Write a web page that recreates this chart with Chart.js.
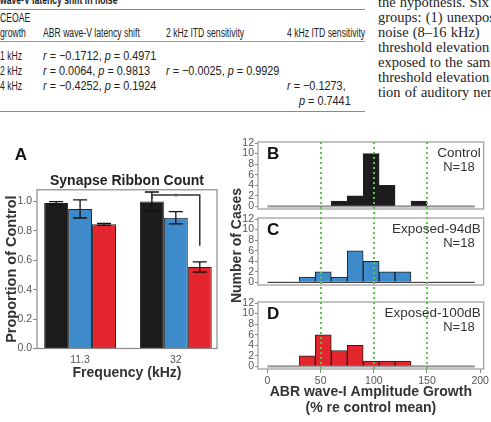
<!DOCTYPE html>
<html>
<head>
<meta charset="utf-8">
<script src="https://cdn.jsdelivr.net/npm/chart.js"></script>
<style>
  html, body { margin: 0; padding: 0; background: #fff; }
  body { width: 491px; height: 422px; position: relative; overflow: hidden; }
  .tbl div {
    position: absolute;
    white-space: nowrap;
    font-family: "Liberation Sans", Arial, sans-serif;
    font-size: 12.5px;
    line-height: 14px;
    color: #222;
    transform-origin: 0 50%;
    transform: scaleX(.69);
  }
  .tbl div.m { transform: scaleX(.87); }
  .tbl div.h { font-weight: bold; }
  .tbl .rule { height: 0; left: 0; width: 365px; transform: none; }
  .prose {
    position: absolute;
    left: 378px;
    top: -5px;
    width: 113px;
    overflow: hidden;
    font-family: "Liberation Serif", "Times New Roman", serif;
    font-size: 14.5px;
    line-height: 15px;
    word-spacing: 0.5px;
    color: #1e1e1e;
    white-space: nowrap;
  }
  canvas { position: absolute; }
  #chartA { left: 0; top: 140px; }
  #chartH { left: 225px; top: 130px; }
</style>
</head>
<body>

<!-- tabla de correlaciones (parte de arriba de la página) -->
<div class="tbl">
  <div class="h" style="left:0;top:-7px">wave-V latency shift in noise</div>
  <div class="rule" style="top:9px;border-top:1.6px solid #8a8a8a"></div>
  <div style="left:0;top:11px">CEOAE</div>
  <div style="left:0;top:26px">growth</div>
  <div style="left:43px;top:26px">ABR wave-V latency shift</div>
  <div style="left:166px;top:26px">2 kHz ITD sensitivity</div>
  <div style="left:287px;top:26px">4 kHz ITD sensitivity</div>
  <div class="rule" style="top:41px;border-top:1px solid #9a9a9a"></div>
  <div style="left:0;top:49px">1 kHz</div>
  <div class="m" style="left:43px;top:49px"><i>r</i> = −0.1712, <i>p</i> = 0.4971</div>
  <div style="left:0;top:64px">2 kHz</div>
  <div class="m" style="left:43px;top:64px"><i>r</i> = 0.0064, <i>p</i> = 0.9813</div>
  <div class="m" style="left:166px;top:64px"><i>r</i> = −0.0025, <i>p</i> = 0.9929</div>
  <div style="left:0;top:79px">4 kHz</div>
  <div class="m" style="left:43px;top:79px"><i>r</i> = −0.4252, <i>p</i> = 0.1924</div>
  <div class="m" style="left:287px;top:79px"><i>r</i> = −0.1273,</div>
  <div class="m" style="left:299px;top:94px"><i>p</i> = 0.7441</div>
  <div class="rule" style="top:111px;border-top:1.8px solid #8a8a8a"></div>
</div>

<div class="prose">
  the hypothesis. Six<br>
  groups: (1) unexposed<br>
  noise (8–16 kHz)<br>
  threshold elevation<br>
  exposed to the same<br>
  threshold elevation<br>
  tion of auditory nerve
</div>

<canvas id="chartA" width="225" height="250"></canvas>
<canvas id="chartH" width="266" height="292"></canvas>

<script>
  // ---- Panel A: Synapse Ribbon Count ----
  const freqLabels   = ['11.3', '32'];
  const groupNames   = ['Control', 'Exposed-94dB', 'Exposed-100dB'];
  const groupColors  = ['#1c1c1c', '#3d8bca', '#e3262d'];
  const ribbonControl = [0.99, 1.00];
  const ribbonExp94   = [0.95, 0.89];
  const ribbonExp100  = [0.845, 0.555];
  const semControl    = [0.01, 0.065];
  const semExp94      = [0.062, 0.042];
  const semExp100     = [0.007, 0.035];
  const ribbonTicks   = [0, 0.2, 0.4, 0.6, 0.8, 1.0];
  // corchete de significancia en 32 kHz (Control vs Exposed-100dB)
  const sigTop = 1.045;
  const sigBottom = 0.70;

  // ---- Paneles B-D: histogramas ----
  const binStarts     = [0, 15, 30, 45, 60, 75, 90, 105, 120, 135, 150, 165, 180];
  const binWidth      = 15;
  const countsControl = [0, 0, 0, 0, 1, 2, 10, 4, 0, 1, 0, 0, 0];
  const countsExp94   = [0, 0, 1, 2, 1, 6, 4, 2, 2, 0, 0, 0, 0];
  const countsExp100  = [0, 0, 2, 6, 3, 4, 1, 1, 1, 0, 0, 0, 0];
  const panelLetters  = ['B', 'C', 'D'];
  const nLabels       = ['N=18', 'N=18', 'N=18'];
  const countTicks    = [0, 2, 4, 6, 8, 10, 12];
  const growthTicks   = [0, 50, 100, 150, 200];
  const refLines      = [50, 100, 150];

  Chart.defaults.font.family = '"Liberation Sans", Arial, sans-serif';
  Chart.defaults.animation = false;
  Chart.defaults.plugins.legend.display = false;
  Chart.defaults.plugins.tooltip.enabled = false;

  const ribbonMeans = [ribbonControl, ribbonExp94, ribbonExp100];
  const ribbonSems  = [semControl, semExp94, semExp100];

  // caja, barras de error, corchete y letra del panel A
  const panelAPlugin = {
    id: 'panelA',
    afterDatasetsDraw(chart) {
      const { ctx, chartArea: a, scales: { y } } = chart;
      ctx.save();
      ctx.strokeStyle = '#8a8a8a';
      ctx.lineWidth = 1.2;
      ctx.strokeRect(a.left, a.top, a.right - a.left, a.bottom - a.top);

      ctx.strokeStyle = '#111';
      ctx.lineWidth = 1.3;
      chart.data.datasets.forEach((ds, di) => {
        chart.getDatasetMeta(di).data.forEach((bar, i) => {
          const v = ds.data[i].y, e = ds.sem[i];
          const t = y.getPixelForValue(v + e), b = y.getPixelForValue(v - e);
          ctx.beginPath();
          ctx.moveTo(bar.x, t); ctx.lineTo(bar.x, b);
          ctx.moveTo(bar.x - 7, t); ctx.lineTo(bar.x + 7, t);
          ctx.moveTo(bar.x - 7, b); ctx.lineTo(bar.x + 7, b);
          ctx.stroke();
        });
      });

      const x0 = chart.getDatasetMeta(0).data[1].x;
      const x2 = chart.getDatasetMeta(2).data[1].x;
      const yt = y.getPixelForValue(sigTop), yb = y.getPixelForValue(sigBottom);
      ctx.strokeStyle = '#333';
      ctx.lineWidth = 1.5;
      ctx.beginPath();
      ctx.moveTo(x0, yt + 4); ctx.lineTo(x0, yt); ctx.lineTo(x2, yt); ctx.lineTo(x2, yb);
      ctx.stroke();
      ctx.fillStyle = '#666';
      ctx.font = '10px "Liberation Sans", Arial, sans-serif';
      ctx.textAlign = 'center';
      ctx.textBaseline = 'alphabetic';
      ctx.fillText('*', (x0 + x2) / 2, yt + 6);
      ctx.restore();
    },
    afterDraw(chart) {
      const ctx = chart.ctx;
      ctx.save();
      ctx.fillStyle = '#111';
      ctx.font = 'bold 17px "Liberation Sans", Arial, sans-serif';
      ctx.textAlign = 'center';
      ctx.textBaseline = 'middle';
      ctx.fillText('A', 21, 15);
      ctx.restore();
    }
  };

  new Chart(document.getElementById('chartA'), {
    type: 'bar',
    data: {
      datasets: groupNames.map((name, g) => ({
        label: name,
        data: freqLabels.map((f, i) => ({ x: i, y: ribbonMeans[g][i] })),
        sem: ribbonSems[g],
        backgroundColor: groupColors[g],
        borderColor: '#222',
        borderWidth: 1,
        categoryPercentage: 0.75,
        barPercentage: 1
      }))
    },
    options: {
      responsive: false,
      layout: { padding: { left: 0, right: 8, top: 0, bottom: 0 } },
      plugins: {
        title: {
          display: true, text: 'Synapse Ribbon Count', fullSize: false,
          color: '#222', font: { size: 14, weight: 'bold' },
          padding: { top: 33, bottom: 0 }
        }
      },
      scales: {
        x: {
          type: 'linear', min: -0.45, max: 1.43, offset: false,
          grid: { display: false, drawTicks: false, offset: false },
          border: { display: false },
          afterBuildTicks: s => { s.ticks = freqLabels.map((f, i) => ({ value: i })); },
          ticks: { callback: v => freqLabels[v], color: '#555', font: { size: 10.5 }, padding: 5, autoSkip: false, maxRotation: 0 },
          title: { display: true, text: 'Frequency (kHz)', color: '#333', font: { size: 14, weight: 'bold' }, padding: { top: 0, bottom: 8.6 } },
          afterFit: s => { s.height = 41.5; }
        },
        y: {
          min: 0, max: 1.08,
          afterBuildTicks: s => { s.ticks = ribbonTicks.map(v => ({ value: v })); },
          ticks: { callback: v => v.toFixed(1), color: '#555', font: { size: 10.5 }, padding: 1, autoSkip: false },
          grid: { drawOnChartArea: false, tickLength: 4, color: '#888' },
          border: { display: false },
          title: { display: true, text: 'Proportion of Control', color: '#333', font: { size: 14.5, weight: 'bold' }, padding: { top: 3.4, bottom: 0 } },
          afterFit: s => { s.width = 37; }
        }
      }
    },
    plugins: [panelAPlugin]
  });

  // ---- B-D: un solo gráfico con tres ejes y apilados ----
  const histCounts = [countsControl, countsExp94, countsExp100];
  const axisIds    = ['yB', 'yC', 'yD'];
  const baseColors = ['#9a9a9a', '#222', '#9a9a9a'];
  const baseWidths = [2.2, 1, 2.2];
  const yLo = -0.5, yHi = 12.2;       // límites de cada caja
  const boxPx = 67;                    // alto de cada caja en px
  const gapPx = [[0, 4.5], [4.5, 8.5], [8.5, 0]]; // hueco arriba/abajo de cada caja
  const pxPerUnit = boxPx / (yHi - yLo);

  const datasets = [];
  histCounts.forEach((counts, p) => {
    datasets.push({
      type: 'bar',
      data: binStarts.map((s, i) => ({ x: s + binWidth / 2, y: counts[i] || null })),
      yAxisID: axisIds[p],
      backgroundColor: groupColors[p],
      borderColor: '#222',
      borderWidth: 1,
      grouped: false,
      barPercentage: 1,
      categoryPercentage: 1,
      order: 1
    });
    datasets.push({
      type: 'line',
      data: [{ x: binStarts[0], y: 0 }, { x: binStarts[binStarts.length - 1] + binWidth, y: 0 }],
      yAxisID: axisIds[p],
      borderColor: baseColors[p],
      borderWidth: baseWidths[p],
      pointRadius: 0,
      order: 2
    });
  });

  const scales = {
    x: {
      type: 'linear', min: -8.9, max: 203.3, offset: false,
      afterBuildTicks: s => { s.ticks = growthTicks.map(v => ({ value: v })); },
      ticks: { color: '#555', font: { size: 10.5 }, padding: 2, autoSkip: false, maxRotation: 0 },
      grid: { drawOnChartArea: false, tickLength: 4, color: '#888', offset: false },
      border: { display: false },
      title: {
        display: true,
        text: ['ABR wave-I Amplitude Growth', '(% re control mean)'],
        color: '#333', font: { size: 14, weight: 'bold', lineHeight: 1.15 },
        padding: { top: 0, bottom: 6 }
      },
      afterFit: s => { s.height = 53; }
    }
  };
  // D primero: el último eje definido queda arriba de la pila
  [2, 1, 0].forEach(p => {
    scales[axisIds[p]] = {
      type: 'linear', position: 'left', stack: 'hist',
      stackWeight: boxPx + gapPx[p][0] + gapPx[p][1],
      min: yLo - gapPx[p][1] / pxPerUnit,
      max: yHi + gapPx[p][0] / pxPerUnit,
      afterBuildTicks: s => { s.ticks = countTicks.map(v => ({ value: v })); },
      ticks: { color: '#555', font: { size: 10.5 }, padding: 1, autoSkip: false },
      grid: { drawOnChartArea: false, tickLength: 3, color: '#888' },
      border: { display: false },
      afterFit: s => { s.width = 33; }
    };
  });

  const histPlugin = {
    id: 'histPanels',
    beforeDatasetsDraw(chart) {
      const { ctx, chartArea: a } = chart;
      ctx.save();
      ctx.strokeStyle = '#9a9a9a';
      ctx.lineWidth = 1.2;
      axisIds.forEach(id => {
        const ys = chart.scales[id];
        const t = ys.getPixelForValue(yHi), b = ys.getPixelForValue(yLo);
        ctx.strokeRect(a.left, t, a.right - a.left, b - t);
      });
      ctx.restore();
    },
    afterDatasetsDraw(chart) {
      const { ctx, chartArea: a, scales: { x } } = chart;
      ctx.save();
      ctx.strokeStyle = '#5cc44c';
      ctx.lineWidth = 2;
      ctx.setLineDash([2, 3]);
      refLines.forEach(v => {
        const px = Math.round(x.getPixelForValue(v));
        ctx.beginPath();
        ctx.moveTo(px, a.top);
        ctx.lineTo(px, a.bottom);
        ctx.stroke();
      });
      ctx.restore();
    },
    afterDraw(chart) {
      const { ctx, chartArea: a } = chart;
      ctx.save();
      ctx.textBaseline = 'middle';
      axisIds.forEach((id, p) => {
        const t = chart.scales[id].getPixelForValue(yHi);
        ctx.fillStyle = '#111';
        ctx.textAlign = 'left';
        ctx.font = 'bold 17px "Liberation Sans", Arial, sans-serif';
        ctx.fillText(panelLetters[p], a.left + 9, t + 12);
        ctx.fillStyle = '#333';
        ctx.textAlign = 'right';
        ctx.font = '13.5px "Liberation Sans", Arial, sans-serif';
        ctx.fillText(groupNames[p], a.right - 3, t + 11.5);
        ctx.font = '13px "Liberation Sans", Arial, sans-serif';
        ctx.fillText(nLabels[p], a.right - 9, t + 25);
      });
      // título común del eje y, centrado sobre los tres paneles
      ctx.save();
      ctx.translate(12, (a.top + a.bottom) / 2 - 10);
      ctx.rotate(-Math.PI / 2);
      ctx.textAlign = 'center';
      ctx.fillStyle = '#333';
      ctx.font = 'bold 14px "Liberation Sans", Arial, sans-serif';
      ctx.fillText('Number of Cases', 0, 0);
      ctx.restore();
      ctx.restore();
    }
  };

  new Chart(document.getElementById('chartH'), {
    type: 'bar',
    data: { datasets },
    options: {
      responsive: false,
      layout: { padding: { left: 0, right: 6, top: 12, bottom: 0 } },
      scales
    },
    plugins: [histPlugin]
  });
</script>
</body>
</html>
